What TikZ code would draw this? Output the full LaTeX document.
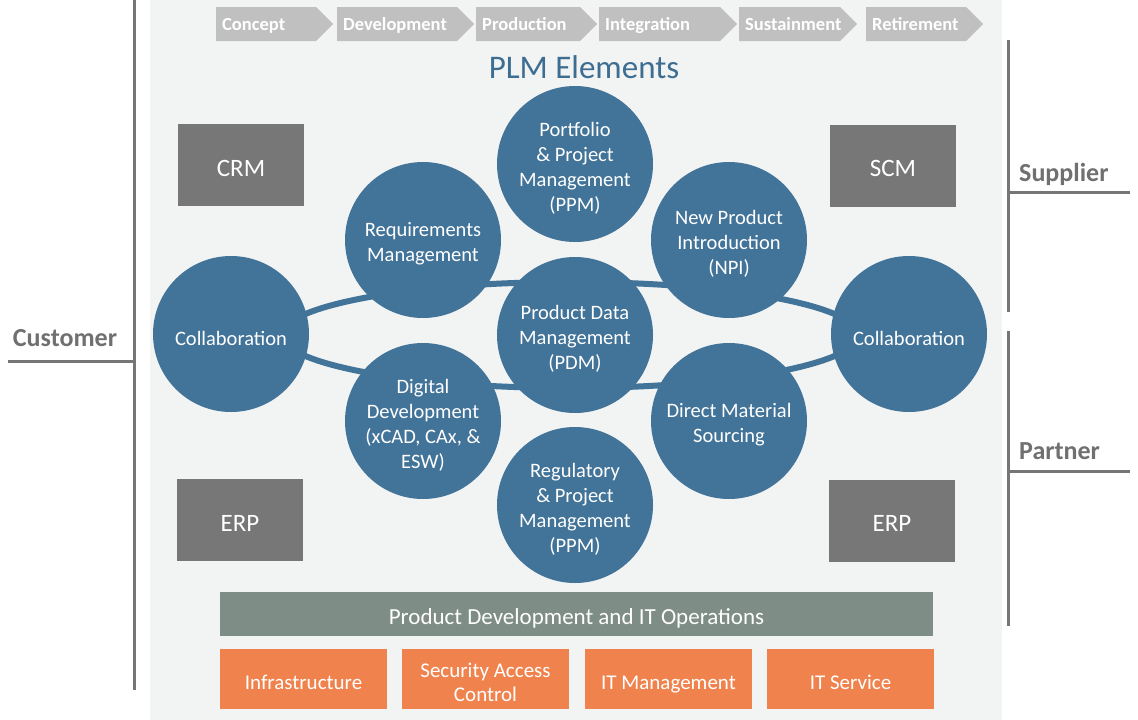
\documentclass[tikz,border=0pt]{standalone}
\usepackage{fontspec}
\setmainfont{Carlito}
\definecolor{circ}{RGB}{66,115,152}
\definecolor{panel}{RGB}{242,243,243}
\definecolor{boxg}{RGB}{119,119,119}
\definecolor{barg}{RGB}{126,141,133}
\definecolor{orng}{RGB}{240,131,77}
\definecolor{chev}{RGB}{192,192,192}
\definecolor{linegray}{RGB}{118,118,118}
\definecolor{labgray}{RGB}{112,112,112}
\definecolor{titleblue}{RGB}{61,110,146}
\begin{document}
\begin{tikzpicture}[x=1pt,y=-1pt,
  elem/.style={circle, fill=circ, minimum size=156pt, inner sep=0pt},
  elemtext/.style={inner sep=0pt, text=white, align=center, yshift=-4pt,
    font=\fontsize{20.5pt}{25pt}\selectfont},
  sysbox/.style={rectangle, fill=boxg, minimum width=126pt, minimum height=82pt, inner sep=0pt},
  systext/.style={inner sep=0pt, text=white, yshift=-3pt, font=\fontsize{25pt}{30pt}\selectfont},
  opsbar/.style={rectangle, fill=barg, minimum width=713pt, minimum height=44pt, inner sep=0pt},
  opstext/.style={inner sep=0pt, text=white, yshift=-4pt, font=\fontsize{23pt}{28pt}\selectfont},
  itbox/.style={rectangle, fill=orng, minimum width=167pt, minimum height=60pt, inner sep=0pt},
  ittext/.style={inner sep=0pt, text=white, align=center, yshift=-3.5pt,
    font=\fontsize{21pt}{24.5pt}\selectfont},
  chevtext/.style={anchor=west, inner sep=0pt, text=white, text height=13pt, text depth=4pt,
    font=\fontsize{18.5pt}{22pt}\selectfont\bfseries},
  sidelabel/.style={inner sep=0pt, text=labgray, font=\fontsize{26pt}{30pt}\selectfont\bfseries},
  sideline/.style={draw=linegray, line width=3pt}
]
\useasboundingbox (0,0) rectangle (1138,720);
\fill[white] (0,0) rectangle (1138,720);
\fill[panel] (150,0) rectangle (1002,720);

% lifecycle chevrons
\foreach \l/\t/\txt/\n in {216/333/Concept/cha, 337/474/Development/chb, 476/597/Production/chc,
    599/737/Integration/chd, 739/857/Sustainment/che, 866/983/Retirement/chf}{
  \fill[chev] (\l,7) -- (\t-17,7) -- (\t,24) -- (\t-17,41) -- (\l,41) -- cycle;
  \node[chevtext] (\n) at (\l+6,25.5) {\txt};
}

\node[text=titleblue, inner sep=0pt, font=\fontsize{33pt}{38pt}\selectfont] (title) at (584,67) {PLM Elements};

% system boxes
\node[sysbox, label={[systext]center:CRM}] (crm) at (241,165) {};
\node[sysbox, label={[systext]center:SCM}] (scm) at (893,165.5) {};
\node[sysbox, label={[systext]center:ERP}] (erpl) at (240,520) {};
\node[sysbox, label={[systext]center:ERP}] (erpr) at (892,520.5) {};

% ring connecting the elements
\coordinate (ring) at (570,335);
\draw[circ, line width=6pt] (ring) ellipse [x radius=288pt, y radius=53pt];

% PLM element circles
\node[elem, label={[elemtext]center:Collaboration}] (colL) at (231,334) {};
\node[elem, label={[elemtext]center:Collaboration}] (colR) at (909,334) {};
\node[elem, label={[elemtext]center:{Portfolio\\\& Project\\Management\\(PPM)}}] (ppm) at (575,164) {};
\node[elem, label={[elemtext]center:{Requirements\\Management}}] (req) at (423,240) {};
\node[elem, label={[elemtext]center:{New Product\\Introduction\\(NPI)}}] (npi) at (729,240) {};
\node[elem, label={[elemtext]center:{Product Data\\Management\\(PDM)}}] (pdm) at (575,335) {};
\node[elem, label={[elemtext]center:{Digital\\Development\\(xCAD, CAx, \&\\ESW)}}] (dig) at (423,421) {};
\node[elem, label={[elemtext]center:{Direct Material\\Sourcing}}] (dms) at (729,421) {};
\node[elem, label={[elemtext]center:{Regulatory\\\& Project\\Management\\(PPM)}}] (reg) at (575,505) {};

% operations
\node[opsbar, label={[opstext]center:Product Development and IT Operations}] (ops) at (576.5,614) {};
\node[itbox, label={[ittext]center:Infrastructure}] (infra) at (303.5,679) {};
\node[itbox, label={[ittext]center:{Security Access\\Control}}] (sec) at (485.5,679) {};
\node[itbox, label={[ittext, yshift=-2pt]center:IT Management}] (itm) at (668.5,679) {};
\node[itbox, label={[ittext]center:IT Service}] (its) at (850.5,679) {};

% side brackets
\coordinate (lt) at (134,0);
\coordinate (lb) at (134,690);
\coordinate (cl) at (8,361);
\coordinate (cr) at (134,361);
\draw[sideline] (lt) -- (lb);
\draw[sideline] (cl) -- (cr);
\node[sidelabel] (cust) at (65,338) {Customer};

\coordinate (st) at (1008,40);
\coordinate (sb) at (1008,312);
\coordinate (sl) at (1008,192);
\coordinate (sr) at (1130,192);
\draw[sideline] (st) -- (sb);
\draw[sideline] (sl) -- (sr);
\node[sidelabel, anchor=west] (sup) at (1019,174) {Supplier};

\coordinate (pt) at (1008,331);
\coordinate (pb) at (1008,626);
\coordinate (pl) at (1008,471);
\coordinate (pr) at (1130,471);
\draw[sideline] (pt) -- (pb);
\draw[sideline] (pl) -- (pr);
\node[sidelabel, anchor=west] (par) at (1019,451) {Partner};
\end{tikzpicture}
\end{document}
